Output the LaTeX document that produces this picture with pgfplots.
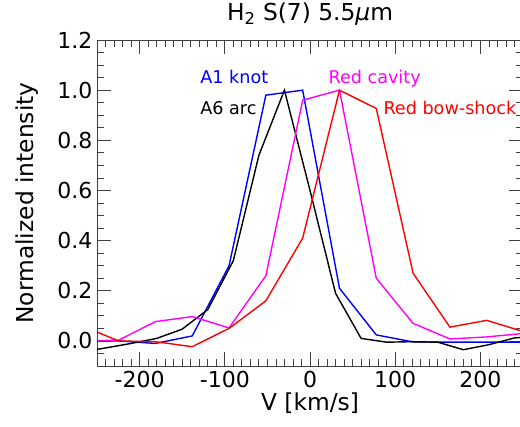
\documentclass[border=0pt]{standalone}
\usepackage{fontspec}
\setmainfont{DejaVu Sans}
\usepackage{pgfplots}
\pgfplotsset{compat=1.18}
\pgfplotsset{/pgf/number format/assume math mode=true}
\usetikzlibrary{calc}
\definecolor{mag}{RGB}{255,0,255}
\definecolor{rd}{RGB}{255,0,0}
\definecolor{bl}{RGB}{0,0,255}
\begin{document}
\begin{tikzpicture}
\begin{axis}[
  name=ax,
  scale only axis,
  width=319.5pt, height=244.5pt,
  xmin=-250, xmax=250, ymin=-0.1, ymax=1.2,
  xtick={-200,-100,0,100,200},
  ytick={0,0.2,0.4,0.6,0.8,1.0,1.2},
  minor xtick={-240,-230,...,240},
  minor ytick={-0.05,0.05,0.1,0.15,0.25,0.3,0.35,0.45,0.5,0.55,0.65,0.7,0.75,0.85,0.9,0.95,1.05,1.1,1.15},
  major tick length=10.5pt,
  minor tick length=5.25pt,
  tick align=inside,
  axis line style={black!75},
  every tick/.style={draw=black!75, line width=0.6pt},
  every major tick/.style={draw=black!75, line width=0.6pt},
  every minor tick/.style={draw=black!75, line width=0.6pt},
  yticklabel style={/pgf/number format/.cd, fixed, fixed zerofill, precision=1},
  ticklabel style={font=\fontsize{16.5}{19}\selectfont},
  xlabel={V [km/s]},
  ylabel={Normalized intensity},
  title={H\textsubscript{2} S(7) 5.5\textit{μ}m},
  every axis x label/.style={at={(axis description cs:0.5,-0.1135)}, anchor=center, font=\fontsize{17.5}{20}\selectfont},
  every axis y label/.style={at={(axis description cs:-0.1643,0.5)}, anchor=center, rotate=90, font=\fontsize{17.5}{20}\selectfont},
  every axis title/.style={at={(axis description cs:0.5,1.08)}, anchor=center, font=\fontsize{17.5}{20}\selectfont},
]
% major tick marks (inward, all four sides)
\pgfplotsinvokeforeach{-200,-100,0,100,200}{
  \draw[black!75, line width=0.6pt] (axis cs:#1,-0.1) -- ++(0pt,10.5pt);
  \draw[black!75, line width=0.6pt] (axis cs:#1,1.2) -- ++(0pt,-10.5pt);
}
\pgfplotsinvokeforeach{0,0.2,0.4,0.6,0.8,1.0}{
  \draw[black!75, line width=0.6pt] (axis cs:-250,#1) -- ++(10.5pt,0pt);
  \draw[black!75, line width=0.6pt] (axis cs:250,#1) -- ++(-10.5pt,0pt);
}
% A1 knot (blue)
\addplot[bl, line width=1.05pt] coordinates {
(-267.8,0.0) (-224.6,0.0) (-181.4,-0.01) (-138.2,0.02) (-95,0.30) (-51.8,0.98)
(-8.6,1.0) (34.6,0.21) (77.8,0.024) (121,-0.004) (164.2,-0.005) (207.4,-0.005) (250.6,-0.005)};
% A6 arc (black)
\addplot[black, line width=1.05pt] coordinates {
(-270,-0.045) (-240,-0.028) (-210,-0.01) (-180,0.01) (-150,0.047) (-120,0.125)
(-90,0.32) (-60,0.74) (-30,1.0) (0,0.60) (30,0.19) (60,0.01) (90,-0.005)
(120,-0.003) (150,-0.005) (180,-0.035) (210,-0.015) (240,0.012) (270,0.02)};
% Red cavity (magenta)
\addplot[mag, line width=1.05pt] coordinates {
(-267.8,0.0) (-224.6,0.003) (-181.4,0.077) (-138.2,0.097) (-95,0.052) (-51.8,0.26)
(-8.6,0.96) (34.6,1.0) (77.8,0.25) (121,0.07) (164.2,0.008) (207.4,0.016) (250.6,0.03)};
% Red bow-shock (red)
\addplot[rd, line width=1.05pt] coordinates {
(-267.8,0.06) (-224.6,0.0) (-181.4,-0.003) (-138.2,-0.023) (-95,0.05) (-51.8,0.16)
(-8.6,0.41) (34.6,1.0) (77.8,0.927) (121,0.27) (164.2,0.055) (207.4,0.082) (250.6,0.037)};
\node[anchor=base west, inner sep=0pt, text=bl, font=\fontsize{13.2}{15}\selectfont] at (axis cs:-129,1.025) {A1 knot};
\node[anchor=base west, inner sep=0pt, text=black, font=\fontsize{13.2}{15}\selectfont] at (axis cs:-129,0.901) {A6 arc};
\node[anchor=base west, inner sep=0pt, text=mag, font=\fontsize{13.2}{15}\selectfont] at (axis cs:21.5,1.025) {Red cavity};
\node[anchor=base west, inner sep=0pt, text=rd, font=\fontsize{13.2}{15}\selectfont] at (axis cs:86,0.901) {Red bow-shock};
\end{axis}
\pgfresetboundingbox
\path[use as bounding box] ($(ax.south west)+(-72.75pt,-45pt)$) rectangle ($(ax.north east)+(-2.25pt,30pt)$);
\end{tikzpicture}
\end{document}
